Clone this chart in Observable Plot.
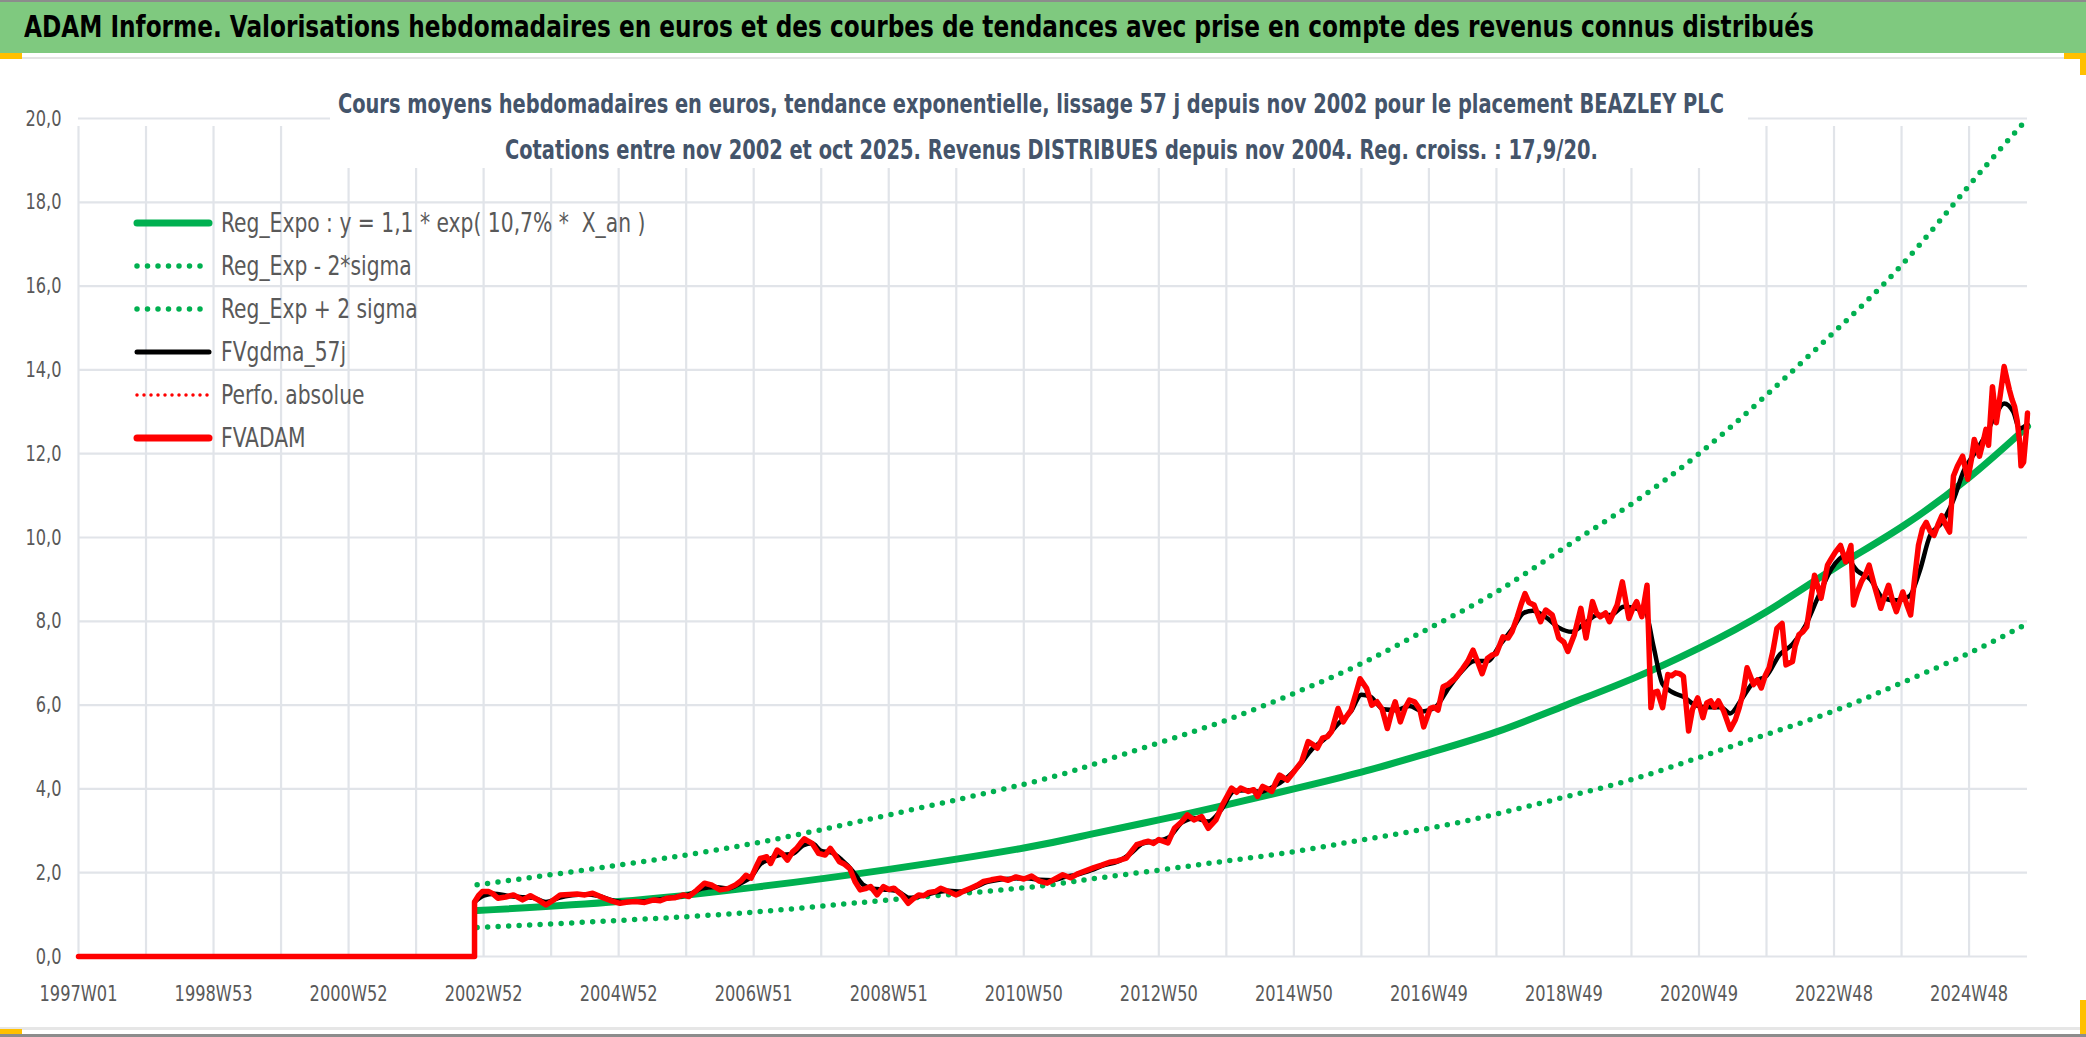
<!DOCTYPE html>
<html>
<head>
<meta charset="utf-8">
<script src="https://cdn.jsdelivr.net/npm/d3@7"></script>
<script src="https://cdn.jsdelivr.net/npm/@observablehq/plot@0.6"></script>
<style>
  html, body { margin: 0; padding: 0; background: #fff; }
  body { width: 2086px; height: 1037px; position: relative; overflow: hidden; font-family: "DejaVu Sans Condensed", "DejaVu Sans", sans-serif; }
  #titlebar { position: absolute; left: 0; top: 0; width: 2086px; height: 53px; background: #7FC97F; border-top: 2px solid #8C8C8C; box-sizing: border-box; font-weight: bold; font-size: 30px; line-height: 50px; padding-left: 24px; color: #000; white-space: nowrap; overflow: hidden; }
  #titlebar span { display: inline-block; transform: scaleX(0.86); transform-origin: 0 50%; }
  #sep { position: absolute; left: 0; top: 57px; width: 2086px; height: 2px; background: #E4E4E4; }
  #chart { position: absolute; left: 0; top: 60px; }
  #subbox { position: absolute; left: 330px; top: 86px; width: 1418px; height: 82px; background: #fff; }
  .subline { position: absolute; width: 1800px; text-align: center; color: #44546A; font-weight: bold; font-size: 26px; line-height: 36px; white-space: nowrap; }
  .subline span { display: inline-block; transform: scaleX(0.83); transform-origin: 50% 50%; }
  #legend { position: absolute; left: 133px; top: 201px; color: #595959; font-size: 27px; }
  #legend .row { height: 43px; display: flex; align-items: center; white-space: pre; }
  #legend svg { margin-right: 8px; flex: none; }
  #legend span { display: inline-block; transform: scaleX(0.835); transform-origin: 0 50%; }
  #bottomline { position: absolute; left: 0; top: 1027px; width: 2086px; height: 3px; background: #E6E6E6; }
  #bottomborder { position: absolute; left: 0; top: 1034px; width: 2086px; height: 3px; background: #8C8C8C; }
  .handle { position: absolute; background: #FFC000; }
</style>
</head>
<body>
<div id="titlebar"><span>ADAM Informe. Valorisations hebdomadaires en euros et des courbes de tendances avec prise en compte des revenus connus distribués</span></div>
<div id="sep"></div>
<div id="chart"></div>
<div id="subbox"></div>
<div class="subline" style="left:131px; top:86px"><span>Cours moyens hebdomadaires en euros, tendance exponentielle, lissage 57 j depuis nov 2002 pour le placement BEAZLEY PLC</span></div>
<div class="subline" style="left:151px; top:132px"><span>Cotations entre nov 2002 et oct 2025. Revenus DISTRIBUES depuis nov 2004. Reg. croiss. : 17,9/20.</span></div>
<div id="legend"></div>
<div id="bottomline"></div>
<div id="bottomborder"></div>
<div class="handle" style="left:0;top:53px;width:22px;height:6px"></div>
<div class="handle" style="left:2064px;top:53px;width:22px;height:6px"></div>
<div class="handle" style="left:2080px;top:53px;width:6px;height:22px"></div>
<div class="handle" style="left:0;top:1029px;width:22px;height:5px"></div>
<div class="handle" style="left:2080px;top:1000px;width:6px;height:34px"></div>
<script>
// ---------- Tick labels (week categories) ----------
const xTickWeeks = [0, 104, 208, 312, 416, 520, 624, 728, 832, 936, 1040, 1144, 1248, 1352, 1456];
const xTickLabels = ["1997W01", "1998W53", "2000W52", "2002W52", "2004W52", "2006W51", "2008W51", "2010W50", "2012W50", "2014W50", "2016W49", "2018W49", "2020W49", "2022W48", "2024W48"];
const xGridWeeks = [0, 52, 104, 156, 208, 260, 312, 364, 416, 468, 520, 572, 624, 676, 728, 780, 832, 884, 936, 988, 1040, 1092, 1144, 1196, 1248, 1300, 1352, 1404, 1456];
const yTicks = [0, 2, 4, 6, 8, 10, 12, 14, 16, 18, 20];
const lastWeek = 1501;

// ---------- FVADAM (weekly index, value in euros) ----------
const fvadamWeeks = [0,305,305,308,311,316,319,323,329,335,342,348,354,360,365,371,378,384,390,396,405,411,417,423,429,436,443,448,453,459,466,470,476,482,488,494,500,506,510,514,518,522,525,530,533,538,542,546,550,553,556,559,562,565,570,575,579,582,586,590,594,598,602,606,610,615,620,624,628,631,634,639,643,647,651,655,660,664,670,676,681,687,692,697,703,710,716,722,728,734,740,746,752,758,764,770,776,782,788,794,800,807,815,820,824,828,832,839,844,849,854,859,865,870,876,881,885,888,892,895,901,905,908,912,916,919,922,925,931,936,942,947,951,954,958,962,965,970,974,977,980,984,987,992,996,1000,1004,1008,1011,1014,1018,1022,1025,1029,1033,1036,1041,1044,1047,1051,1055,1060,1066,1070,1074,1078,1081,1085,1089,1092,1097,1101,1104,1108,1111,1114,1117,1121,1126,1130,1135,1140,1144,1147,1152,1157,1161,1166,1169,1172,1176,1179,1185,1189,1194,1197,1200,1204,1208,1211,1213,1216,1220,1224,1227,1230,1233,1236,1240,1243,1247,1251,1254,1257,1260,1263,1267,1272,1276,1279,1282,1285,1290,1293,1296,1299,1302,1305,1308,1312,1315,1320,1322,1325,1328,1331,1334,1337,1342,1347,1350,1353,1357,1361,1365,1367,1370,1373,1376,1379,1383,1388,1391,1394,1397,1400,1405,1408,1411,1414,1417,1420,1423,1426,1429,1432,1435,1438,1441,1444,1447,1451,1455,1458,1460,1464,1467,1469,1471,1474,1477,1480,1483,1485,1487,1489,1491,1493,1495,1496,1498,1500,1501];
const fvadamValues = [0,0,1.3,1.45,1.55,1.55,1.5,1.39,1.42,1.47,1.35,1.45,1.35,1.23,1.33,1.47,1.48,1.49,1.47,1.51,1.39,1.32,1.27,1.3,1.31,1.29,1.35,1.33,1.39,1.4,1.47,1.43,1.58,1.75,1.7,1.59,1.62,1.71,1.8,1.94,1.87,2.15,2.34,2.38,2.22,2.54,2.45,2.3,2.5,2.58,2.7,2.81,2.75,2.7,2.46,2.42,2.58,2.45,2.26,2.2,2.1,1.79,1.59,1.62,1.67,1.47,1.67,1.6,1.63,1.55,1.47,1.27,1.38,1.47,1.45,1.53,1.55,1.63,1.55,1.47,1.55,1.63,1.7,1.79,1.83,1.87,1.82,1.9,1.85,1.92,1.8,1.75,1.85,1.95,1.88,1.98,2.05,2.12,2.18,2.25,2.28,2.35,2.67,2.72,2.75,2.7,2.79,2.71,3.06,3.2,3.38,3.26,3.34,3.06,3.26,3.62,3.85,4.02,3.92,4.02,3.94,3.98,3.82,4.06,4.0,3.94,4.15,4.33,4.21,4.41,4.65,5.13,5.05,4.97,5.21,5.25,5.37,5.92,5.6,5.75,5.88,6.3,6.63,6.4,6.0,6.08,5.9,5.44,5.8,6.08,5.6,5.95,6.12,6.08,5.9,5.48,5.92,5.95,5.88,6.44,6.5,6.63,6.87,7.05,7.31,7.0,6.75,7.11,7.2,7.23,7.63,7.6,7.75,8.1,8.4,8.66,8.45,8.39,7.99,8.27,8.15,7.6,7.5,7.28,7.68,8.31,7.6,8.47,8.2,8.11,8.2,7.99,8.39,8.94,8.07,8.3,8.47,8.11,8.86,5.94,6.3,6.33,5.94,6.73,6.7,6.77,6.75,6.69,5.38,5.9,6.17,5.7,6.05,6.1,5.95,6.1,5.86,5.42,5.65,5.94,6.3,6.89,6.49,6.6,6.41,6.7,6.89,7.3,7.83,7.95,6.96,7.04,7.4,7.68,7.75,7.87,8.5,9.1,8.55,9.34,9.5,9.65,9.81,9.42,9.81,8.39,8.7,8.94,9.1,9.34,8.86,8.31,8.6,8.86,8.5,8.23,8.7,8.4,8.15,9.0,9.81,10.2,10.36,10.15,10.05,10.3,10.52,10.3,10.13,11.47,11.7,11.94,11.39,11.9,12.34,11.94,12.3,12.58,12.2,13.6,12.74,13.4,14.08,13.8,13.53,13.3,13.13,12.8,12.26,11.71,11.8,12.5,12.97];

// ---------- FVgdma_57j (smoothed) ----------
const gdmaWeeks = [305,312,320,330,340,350,360,370,380,390,400,410,420,430,440,450,460,470,480,490,500,510,518,525,532,540,550,558,565,572,580,588,596,604,612,620,630,640,650,660,670,680,690,700,710,720,730,740,750,760,770,780,790,800,810,820,830,840,850,860,870,880,890,900,910,920,930,940,950,960,970,980,988,995,1005,1015,1025,1035,1045,1055,1065,1075,1085,1095,1105,1113,1120,1130,1140,1150,1160,1170,1180,1190,1200,1207,1213,1220,1228,1236,1245,1255,1265,1272,1280,1290,1300,1310,1320,1330,1340,1350,1360,1370,1380,1390,1400,1410,1418,1426,1435,1444,1452,1460,1468,1476,1483,1490,1495,1501];
const gdmaValues = [1.3,1.45,1.5,1.45,1.42,1.4,1.3,1.4,1.46,1.48,1.45,1.35,1.3,1.31,1.33,1.37,1.42,1.48,1.62,1.66,1.62,1.75,1.9,2.2,2.32,2.42,2.45,2.65,2.7,2.52,2.48,2.3,2.05,1.72,1.62,1.6,1.57,1.4,1.45,1.53,1.57,1.55,1.65,1.78,1.84,1.86,1.87,1.83,1.82,1.9,1.96,2.06,2.18,2.26,2.45,2.7,2.75,2.85,3.2,3.3,3.22,3.5,3.95,3.97,3.93,4.05,4.25,4.55,4.95,5.2,5.55,5.85,6.25,6.2,5.9,5.88,5.98,5.85,5.95,6.4,6.8,7.05,7.05,7.45,7.85,8.2,8.25,8.1,7.85,7.75,7.95,8.15,8.15,8.35,8.3,8.2,7.4,6.5,6.3,6.2,6.0,5.95,5.95,5.8,6.1,6.55,6.7,7.2,7.45,7.9,8.6,9.25,9.55,9.2,9.0,8.55,8.5,8.6,9.2,10.05,10.35,10.9,11.6,12.0,12.4,12.9,13.2,13.0,12.6,12.7];

// ---------- Reg_Expo and ±2 sigma (values read at yearly gridlines) ----------
const regWeeks = [307,416,520,624,728,780,832,884,936,988,1040,1092,1144,1196,1248,1300,1352,1404,1456,1501];
const regExpo = [1.10,1.31,1.65,2.08,2.59,2.92,3.26,3.62,4.00,4.40,4.86,5.36,5.98,6.62,7.36,8.23,9.26,10.25,11.43,12.65];
const regMinus = [0.69,0.86,1.06,1.35,1.64,1.85,2.06,2.28,2.50,2.78,3.06,3.40,3.80,4.22,4.75,5.30,5.86,6.53,7.24,7.95];
const regPlus = [1.71,2.18,2.70,3.38,4.11,4.57,5.10,5.64,6.28,6.99,7.83,8.70,9.75,10.80,12.00,13.40,14.90,16.50,18.40,20.00];

// ---------- Legend ----------
const legendItems = [
  {label: "Reg_Expo : y = 1,1 * exp( 10,7% *  X_an )", color: "#00B050", width: 7, dash: null},
  {label: "Reg_Exp - 2*sigma", color: "#00B050", width: 5.5, dash: "0 10.5"},
  {label: "Reg_Exp + 2 sigma", color: "#00B050", width: 5.5, dash: "0 10.5"},
  {label: "FVgdma_57j", color: "#000000", width: 5, dash: null},
  {label: "Perfo. absolue", color: "#FF0000", width: 3.5, dash: "0 7"},
  {label: "FVADAM", color: "#FF0000", width: 7, dash: null}
];

const fvadam = fvadamWeeks.map((w, i) => ({w, v: fvadamValues[i]}));
const gdma = gdmaWeeks.map((w, i) => ({w, v: gdmaValues[i]}));
const reg = regWeeks.map((w, i) => ({w, c: regExpo[i], lo: regMinus[i], hi: regPlus[i]}));
const labelOf = new Map(xTickWeeks.map((w, i) => [w, xTickLabels[i]]));

const font = '"DejaVu Sans Condensed", "DejaVu Sans", sans-serif';
const grid = "#E1E4E9";

const chart = Plot.plot({
  width: 2086,
  height: 965,
  marginTop: 58,
  marginBottom: 69,
  marginLeft: 78,
  marginRight: 59,
  x: {domain: [0, lastWeek]},
  y: {domain: [0, 20]},
  style: {fontFamily: font, fontSize: "22px", color: "#595959", background: "transparent", overflow: "visible"},
  marks: [
    Plot.ruleY(yTicks, {stroke: grid, strokeWidth: 2.2}),
    Plot.ruleX(xGridWeeks, {y1: 0, y2: 20, stroke: grid, strokeWidth: 2.2, insetBottom: -8}),
    Plot.axisY(yTicks, {tickSize: 0, tickPadding: 17, fontSize: 22, tickFormat: d => d.toFixed(1).replace(".", ","), label: null, fill: "#595959"}),
    Plot.axisX(xTickWeeks, {tickSize: 0, tickPadding: 29, fontSize: 22, tickFormat: d => labelOf.get(d), label: null, fill: "#595959"}),
    Plot.line(reg, {x: "w", y: "lo", stroke: "#00B050", strokeWidth: 5.5, strokeDasharray: "0 10.5", strokeLinecap: "round", curve: "natural"}),
    Plot.line(reg, {x: "w", y: "hi", stroke: "#00B050", strokeWidth: 5.5, strokeDasharray: "0 10.5", strokeLinecap: "round", curve: "natural"}),
    Plot.line(reg, {x: "w", y: "c", stroke: "#00B050", strokeWidth: 7, curve: "natural"}),
    Plot.line(gdma, {x: "w", y: "v", stroke: "#000000", strokeWidth: 4.5, curve: "monotone-x", strokeLinejoin: "round"}),
    Plot.line(fvadam, {x: "w", y: "v", stroke: "#FF0000", strokeWidth: 5.5, strokeLinejoin: "round"})
  ]
});
// Condense tick label glyphs horizontally (narrow font look of the original)
chart.querySelectorAll("text").forEach(t => {
  const tr = t.getAttribute("transform");
  if (tr) {
    t.setAttribute("transform", tr + " scale(0.82,1)");
  } else {
    const x = +t.getAttribute("x") || 0, y = +t.getAttribute("y") || 0;
    t.setAttribute("x", 0); t.setAttribute("y", 0);
    t.setAttribute("transform", `translate(${x},${y}) scale(0.82,1)`);
  }
});
document.getElementById("chart").appendChild(chart);

const legend = document.getElementById("legend");
for (const it of legendItems) {
  const row = document.createElement("div");
  row.className = "row";
  const ns = "http://www.w3.org/2000/svg";
  const s = document.createElementNS(ns, "svg");
  s.setAttribute("width", "80"); s.setAttribute("height", "14");
  const l = document.createElementNS(ns, "line");
  l.setAttribute("x1", "4"); l.setAttribute("x2", "76");
  l.setAttribute("y1", "7"); l.setAttribute("y2", "7");
  l.setAttribute("stroke", it.color);
  l.setAttribute("stroke-width", it.width);
  l.setAttribute("stroke-linecap", "round");
  if (it.dash) l.setAttribute("stroke-dasharray", it.dash);
  s.appendChild(l);
  row.appendChild(s);
  const t = document.createElement("span");
  t.textContent = it.label;
  row.appendChild(t);
  legend.appendChild(row);
}
</script>
</body>
</html>
